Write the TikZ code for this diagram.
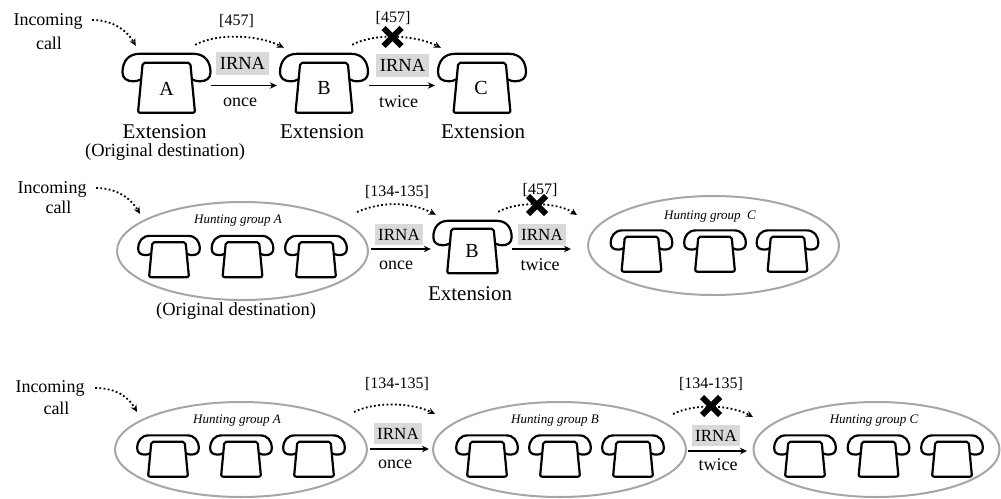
\documentclass[tikz,border=0pt]{standalone}
\usepackage{fontspec}
\setmainfont{Liberation Serif}
\usetikzlibrary{arrows.meta,shapes.geometric,shapes.misc}
\definecolor{boxgray}{HTML}{D9D9D9}
\definecolor{ringgray}{HTML}{A6A6A6}
\tikzset{
  x=1pt,y=-1pt,
  txt/.style={inner sep=0pt,font=\fontsize{18}{18}\selectfont},
  ext/.style={inner sep=0pt,font=\fontsize{21}{21}\selectfont},
  dest/.style={inner sep=0pt,font=\fontsize{18.5}{18.5}\selectfont},
  num/.style={inner sep=0pt,font=\fontsize{16}{16}\selectfont},
  plbl/.style={inner sep=0pt,font=\fontsize{20}{20}\selectfont},
  hunt/.style={inner sep=0pt,font=\fontsize{13}{13}\selectfont\itshape},
  irnabig/.style={fill=boxgray,inner sep=0pt,minimum width=53pt,minimum height=23pt,font=\fontsize{18.5}{18.5}\selectfont},
  irnasmall/.style={fill=boxgray,inner sep=0pt,minimum width=48pt,minimum height=21pt,font=\fontsize{17}{17}\selectfont},
  solidarr/.style={line width=1.5pt,-{Stealth[length=7pt,width=6.5pt]}},
  dotarr/.style={line width=1.8pt,dash pattern=on 1.8pt off 2.4pt,-{Stealth[length=7pt,width=6.5pt]}},
  ring/.style={draw=ringgray,line width=2pt,ellipse,inner sep=0pt},
  blocked/.style={cross out,draw=black,line width=6pt,minimum size=12pt,inner sep=0pt},
  phonebox/.style={inner sep=0pt},
  phoneline/.style={line width=2.2pt,line join=round},
}
% #1 name, #2 x, #3 y, #4 scale
\newcommand{\phone}[4]{%
  \node[phonebox,minimum width=#4*88pt,minimum height=#4*60pt] (#1) at (#2,#3) {};
  \begin{scope}[shift={(#2,#3)},scale=#4]
    \draw[phoneline] (-25.5,-4) .. controls (-28,-2.5) and (-31,-2) .. (-33,-2)
      .. controls (-40,-2) and (-44,-5) .. (-44,-11)
      .. controls (-44,-22) and (-38,-29.5) .. (-27,-29.5)
      -- (27,-29.5)
      .. controls (38,-29.5) and (44,-22) .. (44,-11)
      .. controls (44,-5) and (40,-2) .. (33,-2)
      .. controls (31,-2) and (28,-2.5) .. (25.5,-4);
    \draw[phoneline,rounded corners=2pt] (-23.8,-20.5) -- (23.8,-20.5) -- (28.5,29.5) -- (-28.5,29.5) -- cycle;
  \end{scope}}
\begin{document}
\begin{tikzpicture}
\useasboundingbox (0,0) rectangle (1001,498);

% ---------- Row 1
\phone{pa}{166.5}{83.3}{1}
\phone{pb}{324}{83.3}{1}
\phone{pc}{482}{83.3}{1}
\node[plbl] (la) at (166.5,89) {A};
\node[plbl] (lb) at (324,88) {B};
\node[plbl] (lc) at (481,88) {C};
\node[txt] (inc1) at (48,21) {Incoming};
\node[txt] (cal1) at (49,43) {call};
\node[irnabig] (ir1) at (242.5,63.5) {IRNA};
\node[irnabig] (ir2) at (402.5,65.5) {IRNA};
\node[txt] (on1) at (240,102) {once};
\node[txt] (tw1) at (398.5,102) {twice};
\node[num] (n1) at (236.5,21) {[457]};
\node[num] (n2) at (393,18) {[457]};
\node[ext] (e1) at (164.5,132) {Extension};
\node[ext] (e2) at (322,132) {Extension};
\node[ext] (e3) at (483,132) {Extension};
\node[dest] (d1) at (165,152) {(Original destination)};
\draw[solidarr] ([shift={(0.5pt,-2.2pt)}]pa.east) -- ([shift={(-3pt,-2.2pt)}]pb.west);
\draw[solidarr] ([shift={(0.5pt,-2.2pt)}]pb.east) -- ([shift={(-3pt,-2.2pt)}]pc.west);
\draw[dotarr] ([shift={(9.5pt,1pt)}]inc1.east) .. controls +(22,0) and +(-8,-14) .. ([shift={(13.5pt,7.3pt)}]pa.north west);
\draw[dotarr] ([shift={(-15.5pt,8.3pt)}]pa.north east) .. controls +(22,-12) and +(-25,-13) .. ([shift={(4pt,5.3pt)}]pb.north west);
\draw[dotarr] ([shift={(-16pt,8.3pt)}]pb.north east) .. controls +(22,-12) and +(-25,-13) .. ([shift={(3pt,5.3pt)}]pc.north west);
\node[blocked] (x1) at (392.5,37) {};

% ---------- Row 2
\node[ring,minimum width=251pt,minimum height=98pt] (ga) at (242.5,251) {};
\phone{a1}{169}{256.5}{0.7}
\phone{a2}{242.5}{256.5}{0.7}
\phone{a3}{316}{256.5}{0.7}
\node[hunt] (ha) at (238,221) {Hunting group A};
\phone{qb}{472.5}{247}{0.89}
\node[plbl] (lq) at (472,251) {B};
\node[ring,minimum width=251pt,minimum height=99pt] (gc) at (713.5,245.5) {};
\phone{c1}{641.5}{251}{0.7}
\phone{c2}{715}{251}{0.7}
\phone{c3}{787.5}{251}{0.7}
\node[hunt] (hc) at (710,217) {Hunting group\ \ C};
\node[txt] (inc2) at (52,189) {Incoming};
\node[txt] (cal2) at (58.5,207) {call};
\node[irnasmall] (ir3) at (399,234.5) {IRNA};
\node[irnasmall] (ir4) at (542,234.5) {IRNA};
\node[txt] (on2) at (396,265) {once};
\node[txt] (tw2) at (540,265) {twice};
\node[num] (n3) at (397,192) {[134-135]};
\node[num] (n4) at (540,190) {[457]};
\node[ext] (e4) at (470,294) {Extension};
\node[dest] (d2) at (236,311) {(Original destination)};
\draw[solidarr] ([shift={(2pt,2pt)}]ga.east) -- ([shift={(-2.3pt,-2pt)}]qb.west);
\draw[solidarr] ([shift={(0.3pt,-2pt)}]qb.east) -- ([shift={(-16pt,-3.5pt)}]gc.west);
\draw[dotarr] ([shift={(9.5pt,1pt)}]inc2.east) .. controls +(22,0) and +(-8,-14) .. ([shift={(-102.5pt,37pt)}]ga.center);
\draw[dotarr] ([shift={(114.5pt,39pt)}]ga.center) .. controls +(25,-11) and +(-25,-13) .. ([shift={(2.7pt,5.3pt)}]qb.north west);
\draw[dotarr] ([shift={(-13.7pt,8.3pt)}]qb.north east) .. controls +(20,-11) and +(-20,-13) .. ([shift={(-136.5pt,30.5pt)}]gc.center);
\node[blocked] (x2) at (537,205) {};

% ---------- Row 3
\node[ring,minimum width=252pt,minimum height=95pt] (ta) at (241,449.5) {};
\phone{t1}{168}{456}{0.7}
\phone{t2}{241}{456}{0.7}
\phone{t3}{314}{456}{0.7}
\node[hunt] (tha) at (237,421) {Hunting group A};
\node[ring,minimum width=253pt,minimum height=95pt] (tb) at (559.5,449.5) {};
\phone{u1}{487}{456}{0.7}
\phone{u2}{560}{456}{0.7}
\phone{u3}{633}{456}{0.7}
\node[hunt] (thb) at (555,421) {Hunting group B};
\node[ring,minimum width=246pt,minimum height=95pt] (tc) at (876.5,449.5) {};
\phone{v1}{805}{456}{0.7}
\phone{v2}{878.5}{456}{0.7}
\phone{v3}{952}{456}{0.7}
\node[hunt] (thc) at (874,421) {Hunting group C};
\node[txt] (inc3) at (50,388) {Incoming};
\node[txt] (cal3) at (56.5,408) {call};
\node[irnasmall] (ir5) at (398,433.5) {IRNA};
\node[irnasmall] (ir6) at (716,435.5) {IRNA};
\node[txt] (on3) at (395,464) {once};
\node[txt] (tw3) at (718,465) {twice};
\node[num] (n5) at (397,384) {[134-135]};
\node[num] (n6) at (711,384) {[134-135]};
\draw[solidarr] ([shift={(2pt,0.5pt)}]ta.east) -- ([shift={(-3pt,0.5pt)}]tb.west);
\draw[solidarr] ([shift={(1pt,-1.5pt)}]tb.east) -- ([shift={(-5.5pt,-1.5pt)}]tc.west);
\draw[dotarr] ([shift={(10.5pt,0pt)}]inc3.east) .. controls +(22,0) and +(-8,-14) .. ([shift={(-104pt,37.5pt)}]ta.center);
\draw[dotarr] ([shift={(113pt,37.5pt)}]ta.center) .. controls +(22,-11) and +(-22,-11) .. ([shift={(-124.5pt,35.5pt)}]tb.center);
\draw[dotarr] ([shift={(113.5pt,35.5pt)}]tb.center) .. controls +(22,-11) and +(-22,-12) .. ([shift={(-123.5pt,32.5pt)}]tc.center);
\node[blocked] (x3) at (711,406) {};
\end{tikzpicture}
\end{document}
